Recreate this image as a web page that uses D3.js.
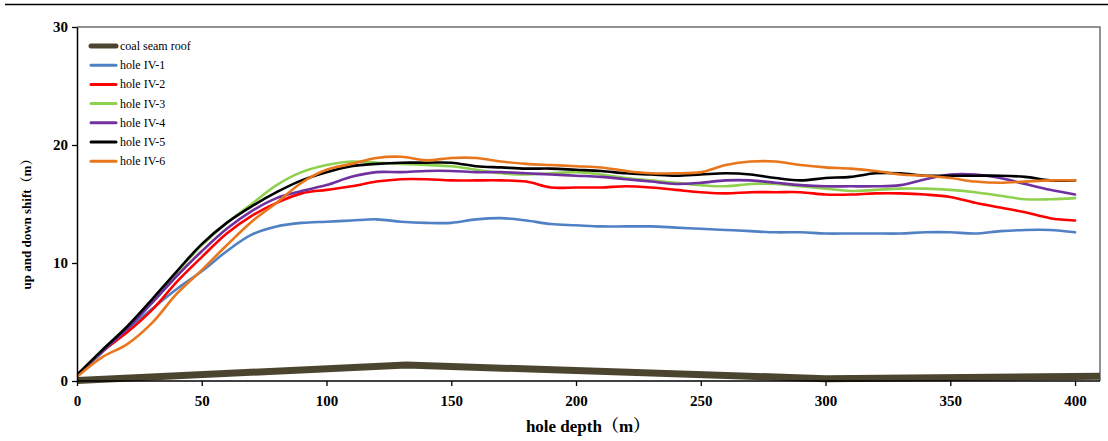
<!DOCTYPE html>
<html>
<head>
<meta charset="utf-8">
<script src="https://cdn.jsdelivr.net/npm/d3@7"></script>
<style>
  html, body { margin: 0; padding: 0; background: #fff; }
  svg { display: block; }
</style>
</head>
<body>
<svg id="chart" width="1108" height="441"></svg>
<script>
// ---- data ----
const depth = [0,10,20,30,40,50,60,70,80,90,100,110,120,130,140,150,160,170,180,190,200,210,220,230,240,250,260,270,280,290,300,310,320,330,340,350,360,370,380,390,400];
const holeIV1 = [0.5,2.4,4.3,6.1,7.8,9.3,11.0,12.4,13.1,13.4,13.5,13.6,13.7,13.5,13.4,13.4,13.7,13.8,13.6,13.3,13.2,13.1,13.1,13.1,13.0,12.9,12.8,12.7,12.6,12.6,12.5,12.5,12.5,12.5,12.6,12.6,12.5,12.7,12.8,12.8,12.6];
const holeIV2 = [0.5,2.5,4.1,6.0,8.4,10.5,12.5,14.0,15.1,15.9,16.2,16.5,16.9,17.1,17.1,17.0,17.0,17.0,16.9,16.4,16.4,16.4,16.5,16.4,16.2,16.0,15.9,16.0,16.0,16.0,15.8,15.8,15.9,15.9,15.8,15.6,15.1,14.7,14.3,13.8,13.6];
const holeIV3 = [0.5,2.6,4.5,6.8,9.2,11.5,13.4,15.0,16.6,17.7,18.3,18.6,18.5,18.4,18.3,18.2,17.9,17.6,17.5,17.6,17.7,17.5,17.2,17.0,16.8,16.6,16.5,16.7,16.7,16.5,16.3,16.1,16.2,16.3,16.3,16.2,16.0,15.7,15.4,15.4,15.5];
const holeIV4 = [0.5,2.5,4.4,6.6,8.9,11.0,12.9,14.4,15.5,16.1,16.6,17.3,17.7,17.7,17.8,17.8,17.7,17.7,17.6,17.5,17.4,17.3,17.1,16.9,16.7,16.8,17.0,17.0,16.8,16.6,16.5,16.5,16.5,16.6,17.1,17.5,17.5,17.2,16.7,16.2,15.8];
const holeIV5 = [0.5,2.6,4.6,6.9,9.3,11.6,13.4,14.8,16.0,17.0,17.7,18.2,18.4,18.5,18.5,18.5,18.2,18.1,18.0,18.0,17.9,17.8,17.6,17.5,17.4,17.5,17.6,17.5,17.2,17.0,17.2,17.3,17.6,17.6,17.4,17.4,17.4,17.4,17.3,17.0,17.0];
const holeIV6 = [0.35,2.0,3.1,4.9,7.4,9.4,11.5,13.5,15.1,16.8,17.9,18.4,18.9,19.0,18.7,18.9,18.9,18.6,18.4,18.3,18.2,18.1,17.8,17.6,17.6,17.7,18.3,18.6,18.6,18.3,18.1,18.0,17.8,17.5,17.4,17.2,16.9,16.8,16.9,17.0,17.0];
const roofDepth = [0,132,300,410];
const roofShift = [0.05,1.35,0.2,0.4];
const seriesNames = ["hole IV-1","hole IV-2","hole IV-3","hole IV-4","hole IV-5","hole IV-6"];
const seriesColors = ["#4f81c4","#ff0000","#8fd14f","#7030a0","#000000","#e8761c"];
const xTicks = [0,50,100,150,200,250,300,350,400];
const yTicks = [0,10,20,30];

// ---- layout ----
const svg = d3.select("#chart");
const L = 77, R = 1100, T = 27, B = 381;
const x = d3.scaleLinear().domain([0,410]).range([L,R]);
const y = d3.scaleLinear().domain([0,30]).range([B,T]);
const serif = "'Liberation Serif','Times New Roman','Noto Serif CJK SC','Noto Sans CJK SC',serif";

// top rule
svg.append("line").attr("x1",5).attr("x2",1108).attr("y1",4.5).attr("y2",4.5)
  .attr("stroke","#000").attr("stroke-width",1.6);

// frame (top & right)
svg.append("path").attr("d",`M${L},${T}H${R}V${B}`).attr("fill","none")
  .attr("stroke","#6f6f6f").attr("stroke-width",1.5);

svg.append("clipPath").attr("id","clip").append("rect")
  .attr("x",L).attr("y",T).attr("width",R-L).attr("height",B-T+10);

const g = svg.append("g").attr("clip-path","url(#clip)");

// coal seam roof
const roofLine = d3.line().x((d,i)=>x(roofDepth[i])).y(d=>y(d));
g.append("path").datum(roofShift).attr("d",roofLine).attr("fill","none")
  .attr("stroke","#4b4530").attr("stroke-width",7).attr("stroke-linejoin","round");

// hole series
const allSeries = [holeIV1,holeIV2,holeIV3,holeIV4,holeIV5,holeIV6];
const line = d3.line().x((d,i)=>x(depth[i])).y(d=>y(d)).curve(d3.curveCatmullRom.alpha(0.5));
allSeries.forEach((s,k)=>{
  g.append("path").datum(s).attr("d",line).attr("fill","none")
    .attr("stroke",seriesColors[k]).attr("stroke-width",2.6)
    .attr("stroke-linejoin","round").attr("stroke-linecap","round");
});

// axes
const xAxis = d3.axisBottom(x).tickValues(xTicks).tickSize(5).tickPadding(9).tickSizeOuter(0);
const yAxis = d3.axisLeft(y).tickValues(yTicks).tickSize(5).tickPadding(4).tickSizeOuter(0);
const gx = svg.append("g").attr("transform",`translate(0,${B})`).call(xAxis);
const gy = svg.append("g").attr("transform",`translate(${L},0)`).call(yAxis);
[gx,gy].forEach(a=>{
  a.select(".domain").attr("stroke","#000").attr("stroke-width",1.5);
  a.selectAll(".tick line").attr("stroke","#000").attr("stroke-width",1.3);
  a.selectAll("text").attr("font-family",serif).attr("font-weight","bold")
    .attr("font-size",15).attr("fill","#000");
});
gx.select(".domain").attr("d",`M${L},0H${R}`);

// axis titles
svg.append("text").attr("x",588).attr("y",432).attr("text-anchor","middle")
  .attr("font-family",serif).attr("font-weight","bold").attr("font-size",17)
  .text("hole depth（m）");
svg.append("text").attr("transform","translate(31,221) rotate(-90)").attr("text-anchor","middle")
  .attr("font-family",serif).attr("font-weight","bold").attr("font-size",13)
  .text("up and down shift（m）");

// legend
const legNames = ["coal seam roof"].concat(seriesNames);
const legColors = ["#4b4530"].concat(seriesColors);
const leg = svg.append("g");
legNames.forEach((n,i)=>{
  const yy = 46 + i*19.2;
  leg.append("line").attr("x1",91).attr("x2",116).attr("y1",yy).attr("y2",yy)
    .attr("stroke",legColors[i]).attr("stroke-width",i===0?5:3).attr("stroke-linecap","round");
  leg.append("text").attr("x",120).attr("y",yy+4).attr("font-family",serif)
    .attr("font-size",12).attr("fill","#000").text(n);
});
</script>
</body>
</html>
